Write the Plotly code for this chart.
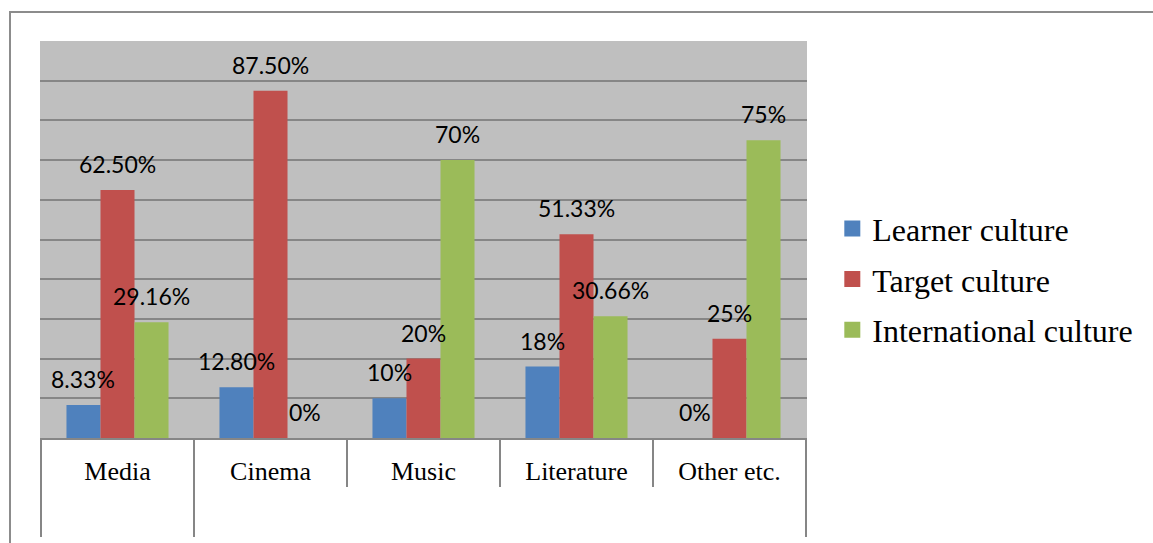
import plotly.graph_objects as go

categories = ["Media", "Cinema", "Music", "Literature", "Other etc."]
series_names = ["Learner culture", "Target culture", "International culture"]
learner = [8.33, 12.80, 10, 18, 0]
target = [62.50, 87.50, 20, 51.33, 25]
international = [29.16, 0, 70, 30.66, 75]
learner_labels = ["8.33%", "12.80%", "10%", "18%", "0%"]
target_labels = ["62.50%", "87.50%", "20%", "51.33%", "25%"]
international_labels = ["29.16%", "0%", "70%", "30.66%", "75%"]
colors = ["#4F81BD", "#C0504D", "#9BBB59"]

W, H = 1153, 543
ML, MR, MT, MB = 40, 346, 41, 105
BARGAP = 0.333
GRID = "#868686"

fig = go.Figure()
series = [learner, target, international]
labels = [learner_labels, target_labels, international_labels]
for name, vals, col in zip(series_names, series, colors):
    fig.add_trace(go.Bar(x=categories, y=vals, name=name, legendgroup=name, showlegend=False,
                         marker=dict(color=col, line=dict(width=0))))
# legend entries with larger square swatches
for name, col in zip(series_names, colors):
    fig.add_trace(go.Scatter(x=[None], y=[None], mode="markers", name=name, legendgroup=name,
                             marker=dict(symbol="square", size=16, color=col), hoverinfo="skip"))

# data labels above each bar
n = len(series)
bw = (1 - BARGAP) / n
for i, (vals, labs) in enumerate(zip(series, labels)):
    for j, (v, t) in enumerate(zip(vals, labs)):
        fig.add_annotation(x=j + (i - (n - 1) / 2) * bw, y=v, text=t, showarrow=False,
                           xref="x", yref="y", yanchor="middle", yshift=26,
                           font=dict(family="Lato", size=23, color="black"))

plot_h = H - MT - MB
shapes = []
# category separators below the axis
for k in range(len(categories) + 1):
    long_line = k in (0, 1, len(categories))
    shapes.append(dict(type="line", xref="x", yref="paper", x0=k - 0.5, x1=k - 0.5,
                       y0=0, y1=-(99 if long_line else 49) / plot_h,
                       line=dict(color=GRID, width=2)))
# outer chart border
shapes.append(dict(type="rect", xref="paper", yref="paper",
                   x0=(10 - ML) / (W - ML - MR), x1=2, y0=-2, y1=(H - MB - 12) / plot_h,
                   line=dict(color="#8C8C8C", width=2), fillcolor="rgba(0,0,0,0)", layer="below"))

fig.update_layout(
    width=W, height=H,
    margin=dict(l=ML, r=MR, t=MT, b=MB, pad=0),
    paper_bgcolor="white", plot_bgcolor="#BFBFBF",
    barmode="group", bargap=BARGAP, bargroupgap=0,
    shapes=shapes,
    legend=dict(x=1.033, xanchor="left", y=0.40, yanchor="middle",
                font=dict(family="Liberation Serif", size=32, color="black"),
                bgcolor="rgba(0,0,0,0)", tracegroupgap=6, itemsizing="trace"),
    xaxis=dict(showgrid=False, showline=True, linecolor=GRID, linewidth=2,
               ticks="outside", ticklen=9, tickcolor="rgba(0,0,0,0)",
               tickfont=dict(family="Liberation Serif", size=26, color="black")),
    yaxis=dict(range=[0, 100], dtick=10, showticklabels=False, showgrid=True,
               gridcolor=GRID, gridwidth=2, zeroline=False, showline=False),
)

fig.write_html("out.html", config={"displayModeBar": False},
               post_script="document.body.style.margin='0';")
